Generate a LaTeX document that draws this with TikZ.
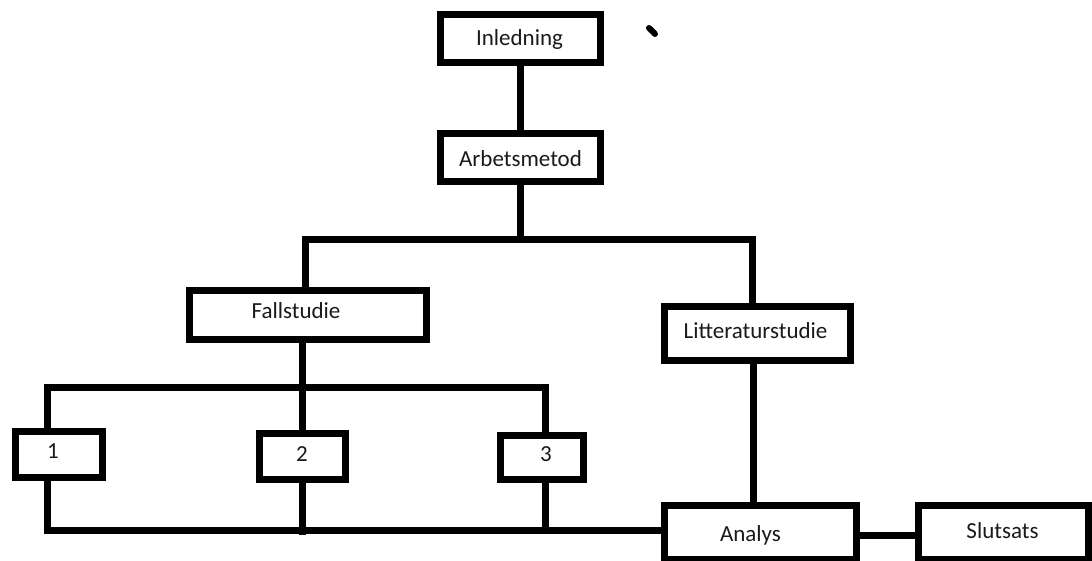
\documentclass[tikz,border=0pt]{standalone}
\usepackage{fontspec}
\setmainfont{Carlito}
\usetikzlibrary{positioning, calc}

\begin{document}
\begin{tikzpicture}[
    x=1pt, y=-1pt,
    every node/.style={font=\fontsize{23}{27}\selectfont},
    box/.style={draw=black, line width=7pt, fill=white, inner sep=0pt},
    tag/.style={text=textcolor, inner sep=0pt},
    link/.style={draw=black, line width=7pt},
]

\definecolor{textcolor}{HTML}{1A1A1A}

% ================================================================
% Pixel grid of the sketch: x to the right, y downwards, 1 unit = 1 px.
% Box sizes are given on the centre line of the 7 px border.
%
%   y =  38   Inledning
%   y = 157   Arbetsmetod
%   y = 240   first split
%   y = 315   Fallstudie / Litteraturstudie (333)
%   y = 387   second split
%   y = 455   cases 1, 2, 3
%   y = 530   join line, Analys, Slutsats
% ================================================================

\useasboundingbox (0,0) rectangle (1092,561);

% ---------------------------------------------------------------- boxes
\node[box, minimum width=160, minimum height=48] (inl)  at (520.5, 38.5) {};
\node[box, minimum width=160, minimum height=48] (arb)  at (520.5,157.5) {};
\node[box, minimum width=237, minimum height=49] (fall) at (308,  315)   {};
\node[box, minimum width=186, minimum height=54] (litt) at (757.5,333.5) {};

\node[box, minimum width=87, minimum height=46] (one)   at (59,   454.5) {};
\node[box, minimum width=86, minimum height=46] (two)   at (302,  456.5) {};
\node[box, minimum width=83, minimum height=44] (three) at (542,  457.5) {};

\node[box, minimum width=192, minimum height=54] (ana)  at (760.5,532.5) {};
\node[box, minimum width=170, minimum height=54] (slut) at (1003.5,532.5) {};

% ---------------------------------------------------------------- texts
% the hand-drawn sketch does not centre all of them
\node[tag] (inl-t)   at ($(inl)+(-1,1)$)      {Inledning};
\node[tag] (arb-t)   at ($(arb)+(0,1)$)       {Arbetsmetod};
\node[tag] (fall-t)  at ($(fall)+(-12,-4)$)   {Fallstudie};
\node[tag] (litt-t)  at ($(litt)+(-2,-3)$)    {Litteraturstudie};
\node[tag] (one-t)   at ($(one)+(-6,-3)$)     {1};
\node[tag] (two-t)   at ($(two)+(0,-2)$)      {2};
\node[tag] (three-t) at ($(three)+(4,-3)$)    {3};
\node[tag] (ana-t)   at ($(ana)+(-10,3)$)     {Analys};
\node[tag] (slut-t)  at ($(slut)+(-1,-2)$)    {Slutsats};

% ---------------------------------------------------------------- split points
\coordinate (split1) at (520.5, 240);
\coordinate (split2) at (302, 387);
\coordinate (join)   at (302, 530);

% ---------------------------------------------------------------- connectors
\draw[link] (inl.south) -- (arb.north);

\draw[link] (arb.south) -- (split1);
\draw[link] ([xshift=-3pt]fall.north) |- (split1);
\draw[link] (split1) -| ([xshift=-5pt]litt.north);

\draw[link] ([xshift=-6pt]fall.south) -- (split2);
\draw[link] ([xshift=-12pt]one.north) |- (split2);
\draw[link] (split2) -| ([xshift=3pt]three.north);
\draw[link] (split2) -- (two.north);

\draw[link] ([xshift=-12pt]one.south) |- (join);
\draw[link] (two.south) -- ([yshift=-5pt]join);
\draw[link] (join) -- (ana.west |- join);
\draw[link] ([xshift=3pt]three.south) -- ([xshift=3pt]three.south |- join);

\draw[link] ([xshift=-4pt]litt.south) -- ([xshift=-7pt]ana.north);
\draw[link] ([yshift=-3pt]ana.east) -- ([yshift=-3pt]slut.west);

% ---------------------------------------------------------------- stray pen mark
\draw[line width=6pt, line cap=round] (649,28) -- (655,34);

\end{tikzpicture}
\end{document}
